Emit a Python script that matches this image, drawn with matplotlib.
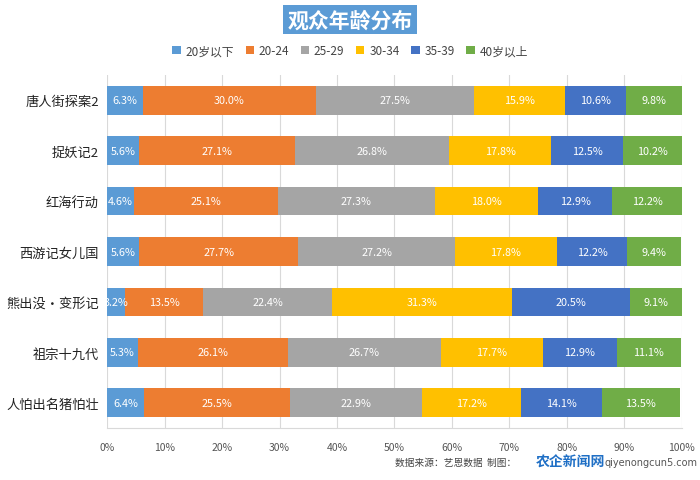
import numpy as np
import matplotlib
matplotlib.use('Agg')
import matplotlib.pyplot as plt
from matplotlib.patches import Patch

plt.rcParams['font.family'] = ['Noto Sans CJK SC', 'DejaVu Sans']

# 电影名称（从上到下）
movies = ['唐人街探案2', '捉妖记2', '红海行动', '西游记女儿国',
          '熊出没•变形记', '祖宗十九代', '人怕出名猪怕壮']
age_groups = ['20岁以下', '20-24', '25-29', '30-34', '35-39', '40岁以上']

under20 = [6.3, 5.6, 4.6, 5.6, 3.2, 5.3, 6.4]
a20_24 = [30.0, 27.1, 25.1, 27.7, 13.5, 26.1, 25.5]
a25_29 = [27.5, 26.8, 27.3, 27.2, 22.4, 26.7, 22.9]
a30_34 = [15.9, 17.8, 18.0, 17.8, 31.3, 17.7, 17.2]
a35_39 = [10.6, 12.5, 12.9, 12.2, 20.5, 12.9, 14.1]
over40 = [9.8, 10.2, 12.2, 9.4, 9.1, 11.1, 13.5]

colors = ['#5B9BD5', '#ED7D31', '#A5A5A5', '#FFC000', '#4472C4', '#70AD47']
series = [under20, a20_24, a25_29, a30_34, a35_39, over40]

fig = plt.figure(figsize=(7, 4.81), dpi=100)
ax = fig.add_axes([0.153, 0.108, 0.821, 0.734])

y = np.arange(len(movies))
left = np.zeros(len(movies))
for vals, c in zip(series, colors):
    vals = np.array(vals)
    ax.barh(y, vals, left=left, height=0.57, color=c, zorder=3)
    for yi, l, v in zip(y, left, vals):
        ax.text(l + v / 2, yi, f'{v:.1f}%', ha='center', va='center',
                color='white', fontsize=7.8, fontweight='medium', zorder=4)
    left += vals

ax.set_xlim(0, 100)
ax.set_ylim(len(movies) - 0.5, -0.5)
ax.set_yticks(y)
ax.set_yticklabels(movies, fontsize=9.5, color='#222222', fontweight='medium')
ax.set_xticks(np.arange(0, 101, 10))
ax.set_xticklabels([f'{t}%' for t in range(0, 101, 10)], fontsize=7.5, color='#555555')
ax.tick_params(length=0, pad=6)
ax.tick_params(axis='x', pad=10)
ax.grid(axis='x', color='#D9D9D9', linewidth=0.8, zorder=0)
for s in ax.spines.values():
    s.set_visible(False)
ax.spines['bottom'].set_visible(True)
ax.spines['bottom'].set_color('#D9D9D9')

# 标题
fig.text(0.5, 0.957, '观众年龄分布', ha='center', va='center', fontsize=15,
         fontweight='bold', color='white',
         bbox=dict(boxstyle='square,pad=0.2', facecolor='#5B9BD5', edgecolor='none'))

handles = [Patch(facecolor=c) for c in colors]
fig.legend(handles, age_groups, loc='center', bbox_to_anchor=(0.5, 0.892),
           ncol=6, frameon=False, fontsize=8.5, handlelength=0.7, handleheight=0.7,
           handletextpad=0.4, columnspacing=1.0, labelcolor='#444444')

# 来源与水印
fig.text(0.565, 0.038, '数据来源：艺恩数据  制图：', fontsize=7, color='#444444', va='center')
fig.text(0.815, 0.038, '农企新闻网', fontsize=10, fontweight='bold', color='#1F6FC5',
         ha='center', va='center')
fig.text(0.93, 0.038, 'qiyenongcun5.com', fontsize=7, color='#555555',
         ha='center', va='center', family=['DejaVu Sans'])

fig.savefig('out.png', dpi=100, facecolor='white')
